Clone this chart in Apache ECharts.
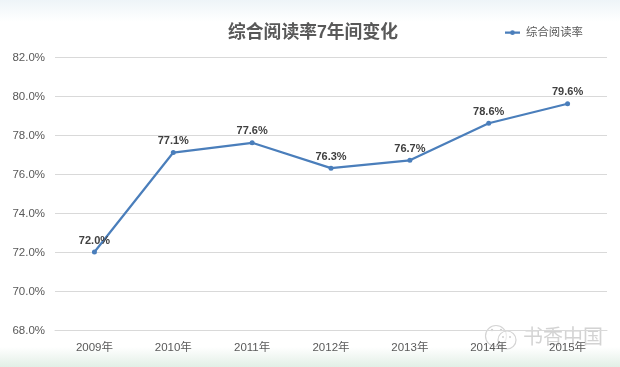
<!DOCTYPE html>
<html>
<head>
<meta charset="utf-8">
<style>html,body{margin:0;padding:0;background:#fff}#c{width:620px;height:367px}</style>
<script src="https://cdn.jsdelivr.net/npm/echarts@6/dist/echarts.min.js"></script>
</head>
<body>
<div id="c"></div>
<script>
const categories = ['2009年','2010年','2011年','2012年','2013年','2014年','2015年'];
const seriesName = '综合阅读率';
const values = [72.0,77.1,77.6,76.3,76.7,78.6,79.6];
const titleText = '综合阅读率7年间变化';
const watermarkText = '书香中国';
const font = '"Liberation Sans","Noto Sans CJK SC",sans-serif';
const chart = echarts.init(document.getElementById('c'), null, {renderer:'canvas'});
chart.setOption({
  animation:false,
  backgroundColor:'#fff',
  title:{text:titleText,left:308,top:19,textAlign:'center',
    textStyle:{fontFamily:font,fontSize:17.8,fontWeight:'bold',color:'#595959'}},
  legend:{show:true,left:500,top:22,itemWidth:15,itemHeight:8,itemGap:4,
    textStyle:{fontFamily:font,fontSize:11.4,color:'#595959',padding:[0,0,0,1]},
    data:[{name:seriesName,icon:'path://M0 3.9H15V6.1H0Z M7.5 2.6A2.4 2.4 0 1 1 7.49 2.6Z'}]},
  grid:{left:55,right:13,top:57,bottom:37},
  xAxis:{type:'category',data:categories,
    axisLine:{lineStyle:{color:'#d9d9d9'}},axisTick:{show:false},
    axisLabel:{fontFamily:font,fontSize:11.5,color:'#595959',margin:12.5}},
  yAxis:{type:'value',min:68,max:82,interval:2,
    axisLine:{show:false},axisTick:{show:false},
    splitLine:{lineStyle:{color:'#d9d9d9',width:1}},
    axisLabel:{margin:10,formatter:v=>'{a|'+v.toFixed(1)+'%}',
      rich:{a:{fontFamily:font,fontSize:11.5,color:'#595959',padding:[2,0,0,0]}}}},
  series:[{name:seriesName,type:'line',data:values,
    symbol:'circle',symbolSize:5,
    lineStyle:{color:'#4a7ebb',width:2.2},
    itemStyle:{color:'#4a7ebb'},
    label:{show:true,position:'top',distance:3.5,fontFamily:font,fontSize:11,fontWeight:'bold',color:'#404040',
      formatter:p=>p.value.toFixed(1)+'%'}}],
  graphic:[
    {type:'rect',silent:true,z:-1,shape:{x:0,y:0,width:620,height:22},
     style:{fill:new echarts.graphic.LinearGradient(0,0,0,1,[{offset:0,color:'#eef4f8'},{offset:1,color:'#ffffff'}])}},
    {type:'rect',silent:true,z:-1,shape:{x:0,y:347,width:620,height:20},
     style:{fill:new echarts.graphic.LinearGradient(0,0,0,1,[{offset:0,color:'#ffffff'},{offset:1,color:'#e2efe6'}])}},
    {type:'group',silent:true,z:10,children:[
      {type:'circle',shape:{cx:496,cy:336,r:10.5},style:{fill:'rgba(255,255,255,0.5)',stroke:'#d4d4d4',lineWidth:1.2}},
      {type:'circle',shape:{cx:507,cy:340,r:9},style:{fill:'rgba(255,255,255,0.6)',stroke:'#d4d4d4',lineWidth:1.2}},
      {type:'circle',shape:{cx:492,cy:330,r:1.2},style:{fill:'#cfcfcf'}},
      {type:'circle',shape:{cx:501,cy:330,r:1.2},style:{fill:'#cfcfcf'}},
      {type:'circle',shape:{cx:503,cy:337,r:1},style:{fill:'#cfcfcf'}},
      {type:'circle',shape:{cx:510,cy:337,r:1},style:{fill:'#cfcfcf'}},
      {type:'text',style:{x:523,y:326,text:watermarkText,fontFamily:'"Noto Sans CJK SC"',fontSize:20,fill:'rgba(200,200,200,0.8)'}}
    ]}
  ]
});
</script>
</body>
</html>
